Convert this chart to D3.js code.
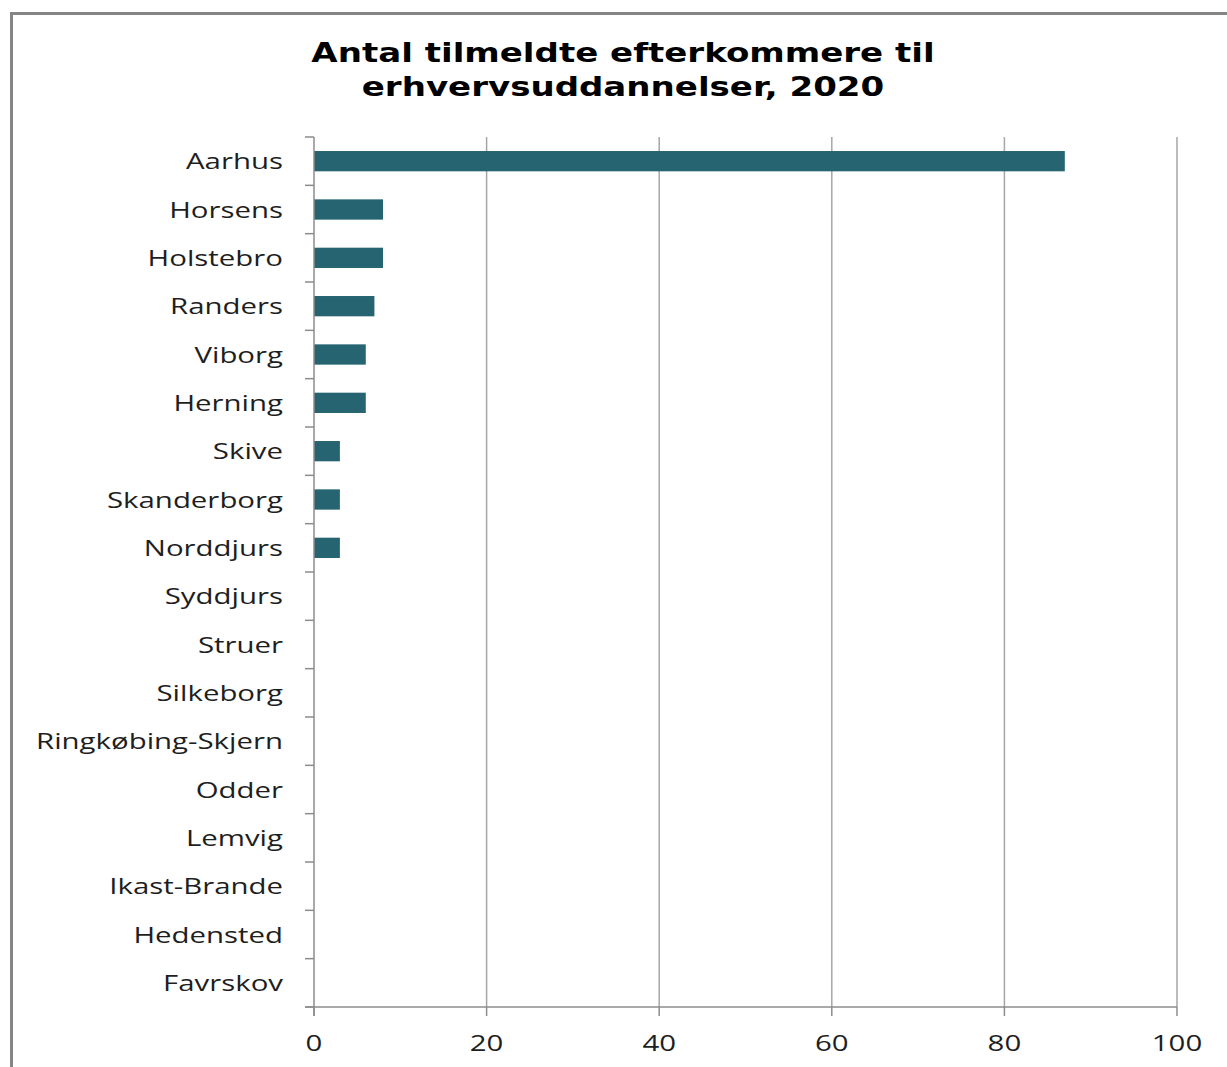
<!DOCTYPE html>
<html>
<head>
<meta charset="utf-8">
<script src="https://cdn.jsdelivr.net/npm/d3@7"></script>
<style>
  html, body { margin: 0; padding: 0; background: #fff; }
  svg { display: block; }
</style>
</head>
<body>
<svg id="chart" width="1227" height="1067"></svg>
<script>
const titleLines = ["Antal tilmeldte efterkommere til", "erhvervsuddannelser, 2020"];
const categories = ["Aarhus", "Horsens", "Holstebro", "Randers", "Viborg", "Herning", "Skive",
  "Skanderborg", "Norddjurs", "Syddjurs", "Struer", "Silkeborg", "Ringkøbing-Skjern",
  "Odder", "Lemvig", "Ikast-Brande", "Hedensted", "Favrskov"];
const values = [87, 8, 8, 7, 6, 6, 3, 3, 3, 0, 0, 0, 0, 0, 0, 0, 0, 0];
const xTicks = [0, 20, 40, 60, 80, 100];

const svg = d3.select("#chart");
const SX = 1.4; // horizontal stretch of text as in reference
const labelFont = "'Open Sans', 'Noto Sans', sans-serif";

// frame
svg.append("rect").attr("x", 11.5).attr("y", 13.5).attr("width", 1300).attr("height", 1200)
  .attr("fill", "none").attr("stroke", "#858585").attr("stroke-width", 3);

const x = d3.scaleLinear().domain([0, 100]).range([314, 1177]);
const y = d3.scaleBand().domain(categories).range([137, 1007]).paddingInner(0.58).paddingOuter(0.29);

// gridlines
svg.append("g").selectAll("line").data(xTicks.filter(d => d > 0)).join("line")
  .attr("x1", d => x(d)).attr("x2", d => x(d))
  .attr("y1", 137).attr("y2", 1007)
  .attr("stroke", "#a6a6a6").attr("stroke-width", 1.5);

// bars
svg.append("g").selectAll("rect").data(categories).join("rect")
  .attr("x", x(0))
  .attr("y", d => y(d))
  .attr("width", (d, i) => x(values[i]) - x(0))
  .attr("height", y.bandwidth())
  .attr("fill", "#276472");

// y axis line and ticks at band boundaries
const ax = svg.append("g").attr("stroke", "#8c8c8c").attr("stroke-width", 1.5);
ax.append("line").attr("x1", x(0)).attr("x2", x(0)).attr("y1", 137).attr("y2", 1016);
const boundaryYs = d3.range(categories.length + 1).map(i => y.range()[0] + i * ((y.range()[1] - y.range()[0]) / categories.length));
ax.selectAll(".yt").data(boundaryYs).join("line").attr("class", "yt")
  .attr("x1", x(0) - 9).attr("x2", x(0)).attr("y1", d => d).attr("y2", d => d);
// x axis line and ticks
ax.append("line").attr("x1", x(0) - 9).attr("x2", x(100)).attr("y1", 1007).attr("y2", 1007);
ax.selectAll(".xt").data(xTicks).join("line").attr("class", "xt")
  .attr("x1", d => x(d)).attr("x2", d => x(d)).attr("y1", 1007).attr("y2", 1016);

// category labels
svg.append("g").selectAll("text").data(categories).join("text")
  .attr("transform", d => `translate(283,${y(d) + y.bandwidth() / 2}) scale(${SX},1)`)
  .attr("text-anchor", "end").attr("dominant-baseline", "central")
  .attr("font-family", labelFont).attr("font-size", 21).attr("fill", "#1e1e1e")
  .text(d => d);

// x tick labels
svg.append("g").selectAll("text").data(xTicks).join("text")
  .attr("transform", d => `translate(${x(d)},1043) scale(${SX},1)`)
  .attr("text-anchor", "middle").attr("dominant-baseline", "central")
  .attr("font-family", labelFont).attr("font-size", 21).attr("fill", "#1e1e1e")
  .text(d => d);

// title
svg.append("g").selectAll("text").data(titleLines).join("text")
  .attr("transform", (d, i) => `translate(623,${62 + i * 34}) scale(1.31,1)`)
  .attr("text-anchor", "middle")
  .attr("font-family", "'DejaVu Sans', Verdana, sans-serif").attr("font-weight", "bold")
  .attr("font-size", 26).attr("fill", "#000")
  .text(d => d);
</script>
</body>
</html>
